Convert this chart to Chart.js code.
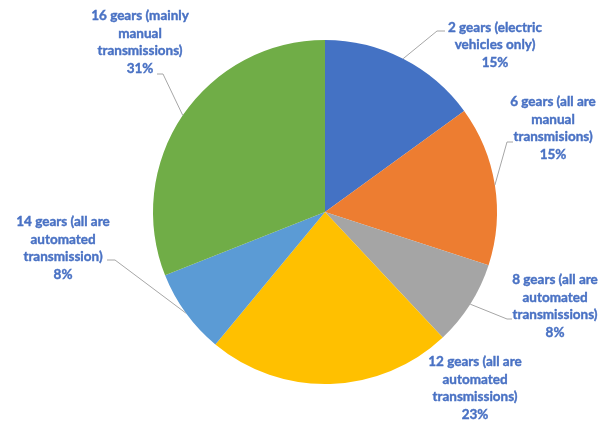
<!DOCTYPE html>
<html>
<head>
<meta charset="utf-8">
<script src="https://cdn.jsdelivr.net/npm/chart.js@4.4.1/dist/chart.umd.min.js"></script>
<style>
    html, body { margin: 0; padding: 0; background: #ffffff; }
    #wrap { width: 608px; height: 421px; }
</style>
</head>
<body>
<div id="wrap"><canvas id="gearChart" width="608" height="421"></canvas></div>
<script>
// Share of truck models by number of gears
const categories = ['2 gears', '6 gears', '8 gears', '12 gears', '14 gears', '16 gears'];
const labelLines = [
    ['2 gears (electric', 'vehicles only)'],
    ['6 gears (all are', 'manual', 'transmisions)'],
    ['8 gears (all are', 'automated', 'transmissions)'],
    ['12 gears (all are', 'automated', 'transmissions)'],
    ['14 gears (all are', 'automated', 'transmission)'],
    ['16 gears (mainly', 'manual', 'transmissions)']
];
const shares = [15, 15, 8, 23, 8, 31];
const sliceColors = ['#4472C4', '#ED7D31', '#A5A5A5', '#FFC000', '#5B9BD5', '#70AD47'];

// label boxes, offsets from the pie centre (px); attach = where the leader meets the text
const labelLayout = [
    { dx: 170, dy: -167, attach: { x: 120, y: -181 }, elbow: -8 },
    { dx: 228, dy: -84, attach: { x: 188, y: -70 }, elbow: -6 },
    { dx: 230, dy: 94, attach: { x: 187, y: 107 }, elbow: -5 },
    { dx: 150, dy: 176, attach: null },
    { dx: -262, dy: 36, attach: { x: -218, y: 48 }, elbow: 8 },
    { dx: -185, dy: -170, attach: { x: -168, y: -138 }, elbow: 6 }
];

const outsideLabels = {
    id: 'outsideLabels',
    afterDatasetsDraw(chart) {
        const ctx = chart.ctx;
        const arcs = chart.getDatasetMeta(0).data;
        const total = shares.reduce((a, b) => a + b, 0);
        ctx.save();
        arcs.forEach((arc, i) => {
            const cx = arc.x, cy = arc.y, r = arc.outerRadius;
            const mid = (arc.startAngle + arc.endAngle) / 2;
            const lay = labelLayout[i];

            // leader line
            if (lay.attach) {
                const ex = cx + Math.cos(mid) * r;
                const ey = cy + Math.sin(mid) * r;
                const ax = cx + lay.attach.x, ay = cy + lay.attach.y;
                ctx.beginPath();
                ctx.moveTo(ex, ey);
                ctx.lineTo(ax + lay.elbow, ay);
                ctx.lineTo(ax, ay);
                ctx.strokeStyle = '#A6A6A6';
                ctx.lineWidth = 1;
                ctx.stroke();
            }

            // text, slightly stroked to match the heavier original face
            const lines = labelLines[i].concat([Math.round(shares[i] / total * 100) + '%']);
            const lh = 17.6;
            const x = cx + lay.dx;
            const y0 = cy + lay.dy - (lines.length - 1) * lh / 2;
            ctx.font = 'bold 13.5px Lato, "Open Sans", sans-serif';
            ctx.fillStyle = '#4A72C4';
            ctx.strokeStyle = '#4A72C4';
            ctx.lineWidth = 0.4;
            ctx.textAlign = 'center';
            ctx.textBaseline = 'middle';
            lines.forEach((t, k) => {
                ctx.fillText(t, x, y0 + k * lh);
                ctx.strokeText(t, x, y0 + k * lh);
            });
        });
        ctx.restore();
    }
};

new Chart(document.getElementById('gearChart'), {
    type: 'pie',
    data: {
        labels: categories,
        datasets: [{
            data: shares,
            backgroundColor: sliceColors,
            borderWidth: 0
        }]
    },
    options: {
        responsive: false,
        animation: false,
        layout: { padding: { left: 153, right: 111, top: 40, bottom: 37 } },
        plugins: {
            legend: { display: false },
            tooltip: { enabled: false }
        }
    },
    plugins: [outsideLabels]
});
</script>
</body>
</html>
